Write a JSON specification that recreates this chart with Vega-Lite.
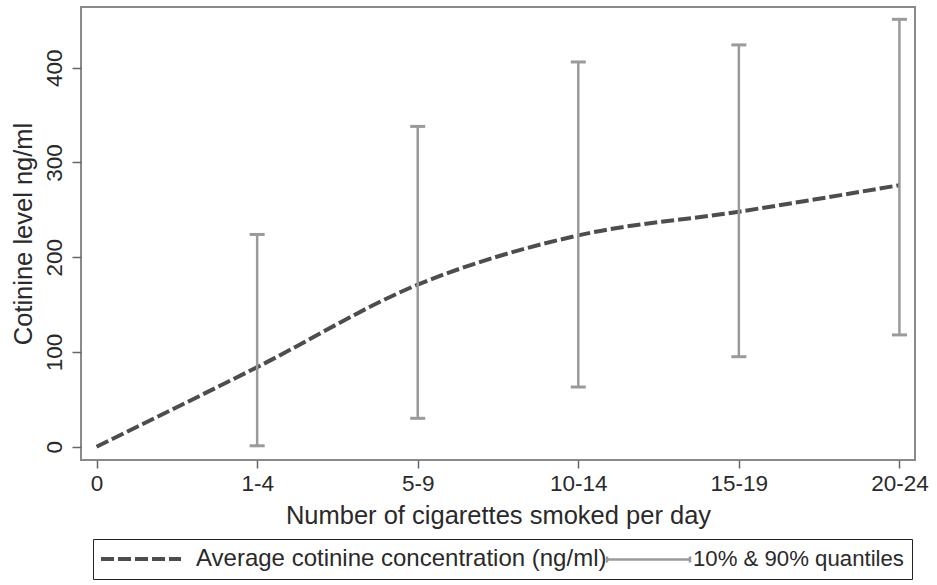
{
  "$schema": "https://vega.github.io/schema/vega-lite/v6.json",
  "width": 834,
  "height": 453,
  "autosize": {"type": "none"},
  "padding": {"left": 81, "top": 7, "right": 22, "bottom": 125},
  "background": "white",
  "config": {
    "font": "Liberation Sans",
    "view": {"stroke": "#8a8a8a", "strokeWidth": 2},
    "axis": {
      "labelFont": "Liberation Sans",
      "titleFont": "Liberation Sans",
      "labelColor": "#2a2a2a",
      "titleColor": "#2a2a2a",
      "titleFontWeight": "normal",
      "labelFontSize": 22.5,
      "titleFontSize": 25.5,
      "tickColor": "#666",
      "tickWidth": 1.5,
      "grid": false,
      "domain": false
    }
  },
  "data": {
    "values": [
      {"cig": "0", "mean": 0, "lo": null, "hi": null},
      {"cig": "1-4", "mean": 84, "lo": 1, "hi": 224},
      {"cig": "5-9", "mean": 171, "lo": 30, "hi": 338},
      {"cig": "10-14", "mean": 223, "lo": 63, "hi": 406},
      {"cig": "15-19", "mean": 248, "lo": 95, "hi": 424},
      {"cig": "20-24", "mean": 276, "lo": 118, "hi": 451}
    ]
  },
  "encoding": {
    "x": {
      "field": "cig",
      "type": "ordinal",
      "sort": ["0", "1-4", "5-9", "10-14", "15-19", "20-24"],
      "scale": {"type": "point", "padding": 0.097},
      "axis": {
        "title": "Number of cigarettes smoked per day",
        "labelAngle": 0,
        "tickSize": 8,
        "labelPadding": 4,
        "titlePadding": 9
      }
    }
  },
  "layer": [
    {
      "mark": {"type": "line", "strokeWidth": 4, "interpolate": "monotone"},
      "encoding": {
        "y": {
          "field": "mean",
          "type": "quantitative",
          "scale": {"domain": [-14, 464], "nice": false, "zero": false},
          "axis": {
            "title": "Cotinine level ng/ml",
            "values": [0, 100, 200, 300, 400],
            "labelAngle": 270,
            "tickSize": 9,
            "labelPadding": 6,
            "titlePadding": 7
          }
        },
        "color": {
          "datum": "Average cotinine concentration (ng/ml)",
          "scale": {
            "domain": ["Average cotinine concentration (ng/ml)", "10% & 90% quantiles"],
            "range": ["#4d4d4d", "#9a9a9a"]
          },
          "legend": {
            "title": null,
            "orient": "none",
            "legendX": 12,
            "legendY": 532,
            "direction": "horizontal",
            "columns": 2,
            "columnPadding": -7,
            "padding": 8,
            "strokeColor": "#222",
            "labelFont": "Liberation Sans",
            "labelFontSize": 24,
            "labelColor": "#2a2a2a",
            "labelLimit": 600,
            "symbolSize": 100,
            "symbolStrokeWidth": 4,
            "labelOffset": 71,
            "symbolType": "M-2.4,0L13.6,0",
            "encode": {
              "symbols": {
                "update": {
                  "shape": {"signal": "datum.value === '10% & 90% quantiles' ? 'M-2.4,-0.6L-2.4,0.6M-2.4,0L14.2,0M14.2,-0.6L14.2,0.6' : 'M-2.4,0L13.6,0'"},
                  "strokeWidth": {"signal": "datum.value === '10% & 90% quantiles' ? 2.5 : 4"}
                }
              },
              "labels": {
                "update": {
                  "fontSize": {"signal": "datum.value === '10% & 90% quantiles' ? 22.2 : 24"},
                  "dx": {"signal": "datum.value === '10% & 90% quantiles' ? -9 : 0"}
                }
              }
            }
          }
        },
        "strokeDash": {
          "datum": "Average cotinine concentration (ng/ml)",
          "scale": {
            "domain": ["Average cotinine concentration (ng/ml)", "10% & 90% quantiles"],
            "range": [[13, 4], [1, 0]]
          },
          "legend": {
            "title": null,
            "orient": "none",
            "legendX": 12,
            "legendY": 532,
            "direction": "horizontal",
            "columns": 2,
            "columnPadding": -7,
            "padding": 8,
            "strokeColor": "#222",
            "labelFont": "Liberation Sans",
            "labelFontSize": 24,
            "labelColor": "#2a2a2a",
            "labelLimit": 600,
            "symbolSize": 100,
            "symbolStrokeWidth": 4,
            "labelOffset": 71,
            "symbolType": "M-2.4,0L13.6,0"
          }
        }
      }
    },
    {
      "transform": [{"filter": "datum.lo != null"}],
      "mark": {"type": "rule", "strokeWidth": 2.5},
      "encoding": {
        "y": {"field": "lo", "type": "quantitative"},
        "y2": {"field": "hi"},
        "color": {"datum": "10% & 90% quantiles"},
        "strokeDash": {"datum": "10% & 90% quantiles"}
      }
    },
    {
      "transform": [{"filter": "datum.lo != null"}],
      "mark": {"type": "tick", "color": "#9a9a9a", "size": 15, "thickness": 3, "opacity": 1},
      "encoding": {"y": {"field": "lo", "type": "quantitative"}}
    },
    {
      "transform": [{"filter": "datum.lo != null"}],
      "mark": {"type": "tick", "color": "#9a9a9a", "size": 15, "thickness": 3, "opacity": 1},
      "encoding": {"y": {"field": "hi", "type": "quantitative"}}
    }
  ]
}
